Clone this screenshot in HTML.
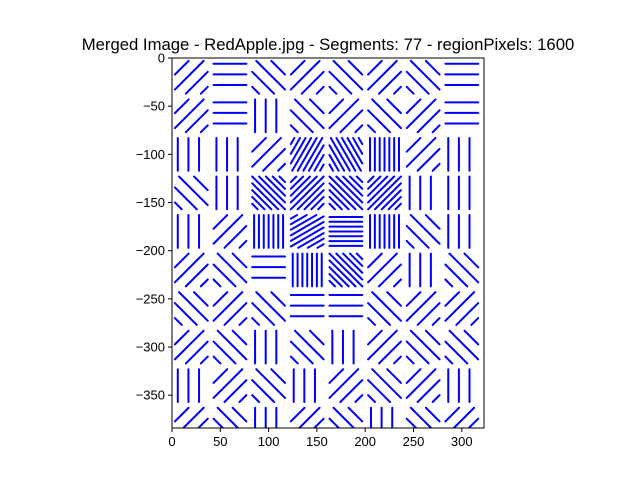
<!DOCTYPE html>
<html><head><meta charset="utf-8"><style>
body{margin:0;background:#fff;font-family:"Liberation Sans","DejaVu Sans",sans-serif}
svg text{font-family:"Liberation Sans","DejaVu Sans",sans-serif}
</style></head><body>
<svg id="chart" width="640" height="480" xmlns="http://www.w3.org/2000/svg">
<rect width="640" height="480" fill="#fff"/>
<text x="328" y="50" font-size="16.7" text-anchor="middle">Merged Image - RedApple.jpg - Segments: 77 - regionPixels: 1600</text>
<defs><clipPath id="plotclip"><rect x="172" y="58" width="312" height="370"/></clipPath></defs>
<g id="marks" clip-path="url(#plotclip)"></g>
<rect x="172" y="58" width="312" height="370" fill="none" stroke="#000" stroke-width="1"/>
<g id="axes"></g>
</svg>
<script>
const xTicks=[0,50,100,150,200,250,300];
const yTicks=[0,-50,-100,-150,-200,-250,-300,-350];
const cellSize=40;
// orientation (deg) of strokes per 40px region, rows top→bottom, cols left→right
const cellAngles=[
[45,0,-45,45,-45,45,-45,0],
[45,0,90,-45,45,-45,45,0],
[90,90,45,60,-60,90,45,90],
[-45,90,-45,45,-45,45,90,90],
[90,45,90,30,0,90,-45,90],
[45,-45,0,90,-45,45,90,-45],
[-45,45,-45,0,0,-45,45,45],
[45,-45,90,-45,90,45,-45,-45],
[90,45,-45,90,45,-45,45,90],
[45,-45,90,45,-45,90,-45,45]
];
// 1 = dense region
const cellDense=[
[0,0,0,0,0,0,0,0],[0,0,0,0,0,0,0,0],
[0,0,0,1,1,1,0,0],[0,0,1,1,1,1,0,0],
[0,0,1,1,1,1,0,0],[0,0,0,1,1,0,0,0],
[0,0,0,0,0,0,0,0],[0,0,0,0,0,0,0,0],
[0,0,0,0,0,0,0,0],[0,0,0,0,0,0,0,0]];
const X0=172,X1=484,xmin=0,xmax=323,Y0=58,Y1=428,ymax=0,ymin=-384;
const sx=v=>X0+(v-xmin)/(xmax-xmin)*(X1-X0);
const sy=v=>Y0+(ymax-v)/(ymax-ymin)*(Y1-Y0);
const NS="http://www.w3.org/2000/svg";
const marks=document.getElementById('marks'),axes=document.getElementById('axes');
function clipSeg(x0,y0,x1,y1,xa,ya,xb,yb){let t0=0,t1=1;const dx=x1-x0,dy=y1-y0;
const p=[-dx,dx,-dy,dy],q=[x0-xa,xb-x0,y0-ya,yb-y0];
for(let i=0;i<4;i++){if(p[i]===0){if(q[i]<0)return null;}else{const r=q[i]/p[i];if(p[i]<0){if(r>t1)return null;if(r>t0)t0=r;}else{if(r<t0)return null;if(r<t1)t1=r;}}}
return [x0+t0*dx,y0+t0*dy,x0+t1*dx,y0+t1*dy];}
cellAngles.forEach((row,r)=>row.forEach((ang,c)=>{
 const xa=c*cellSize+3,xb=(c+1)*cellSize-3,ya=-(r+1)*cellSize+3,yb=-r*cellSize-3;
 const cx=(xa+xb)/2,cy=(ya+yb)/2,a=ang*Math.PI/180,dx=Math.cos(a),dy=Math.sin(a);
 const s=cellDense[r][c]?5:11;
 for(let k=-30;k<=30;k+=s){
  const px=cx-dy*k,py=cy+dx*k;
  const seg=clipSeg(px-dx*40,py-dy*40,px+dx*40,py+dy*40,xa,ya,xb,yb);
  if(!seg)continue;
  if(Math.hypot(seg[2]-seg[0],seg[3]-seg[1])<6)continue;
  const l=document.createElementNS(NS,'line');
  l.setAttribute('x1',sx(seg[0]));l.setAttribute('y1',sy(seg[1]));
  l.setAttribute('x2',sx(seg[2]));l.setAttribute('y2',sy(seg[3]));
  l.setAttribute('stroke','#0000ff');l.setAttribute('stroke-width','2');l.setAttribute('stroke-linecap','round');
  
  
  marks.appendChild(l);
 }
}));
xTicks.forEach(v=>{const x=sx(v);
 const t=document.createElementNS(NS,'line');t.setAttribute('x1',x);t.setAttribute('x2',x);t.setAttribute('y1',Y1);t.setAttribute('y2',Y1+4);t.setAttribute('stroke','#000');
 
 axes.appendChild(t);
 const tx=document.createElementNS(NS,'text');tx.setAttribute('x',x);tx.setAttribute('y',Y1+18);tx.setAttribute('font-size','13');tx.setAttribute('text-anchor','middle');tx.textContent=v;
 
 axes.appendChild(tx);});
yTicks.forEach(v=>{const y=sy(v);
 const t=document.createElementNS(NS,'line');t.setAttribute('x1',X0-4);t.setAttribute('x2',X0);t.setAttribute('y1',y);t.setAttribute('y2',y);t.setAttribute('stroke','#000');
 
 axes.appendChild(t);
 const tx=document.createElementNS(NS,'text');tx.setAttribute('x',X0-7);tx.setAttribute('y',y+4.5);tx.setAttribute('font-size','13');tx.setAttribute('text-anchor','end');tx.textContent=v===0?'0':'\u2212'+(-v);
 
 axes.appendChild(tx);});
</script>
</body></html>
